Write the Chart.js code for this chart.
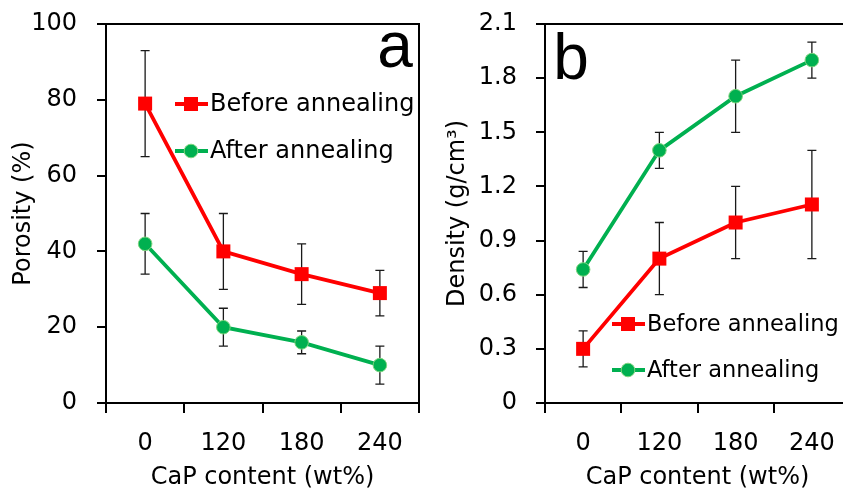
<!DOCTYPE html>
<html>
<head>
<meta charset="utf-8">
<script src="https://cdn.jsdelivr.net/npm/chart.js@4.4.0/dist/chart.umd.min.js"></script>
<style>
  html, body { margin: 0; padding: 0; background: #fff; overflow: hidden; }
  #wrap { position: relative; width: 843px; height: 493px; overflow: hidden; }
  canvas { position: absolute; top: 0; }
  #chartA { left: 0; }
  #chartB { left: 425px; }
</style>
</head>
<body>
<div id="wrap">
  <canvas id="chartA" width="425" height="493"></canvas>
  <canvas id="chartB" width="425" height="493"></canvas>
</div>
<script>
// dados
const categories = ['0', '120', '180', '240'];
const seriesNames = ['Before annealing', 'After annealing'];

const porosityBefore = [79, 40, 34, 29];
const porosityBeforeErr = [14, 10, 8, 6];
const porosityAfter = [42, 20, 16, 10];
const porosityAfterErr = [8, 5, 3, 5];
const porosityTicks = [0, 20, 40, 60, 80, 100];

const densityBefore = [0.3, 0.8, 1.0, 1.1];
const densityBeforeErr = [0.1, 0.2, 0.2, 0.3];
const densityAfter = [0.74, 1.4, 1.7, 1.9];
const densityAfterErr = [0.1, 0.1, 0.2, 0.1];
const densityTicks = [0, 0.3, 0.6, 0.9, 1.2, 1.5, 1.8, 2.1];

const RED = '#FF0000';
const GREEN = '#00B050';
const FONT = 'DejaVu Sans';

Chart.defaults.font.family = FONT;
Chart.defaults.color = '#000';

// barras de erro
const errorBars = {
    id: 'errorBars',
    beforeDatasetsDraw(chart) {
        const ctx = chart.ctx;
        const y = chart.scales.y;
        chart.data.datasets.forEach((ds, i) => {
            const meta = chart.getDatasetMeta(i);
            meta.data.forEach((pt, j) => {
                const v = ds.data[j];
                const e = ds.errors[j];
                const top = y.getPixelForValue(v + e);
                const bot = y.getPixelForValue(v - e);
                ctx.save();
                ctx.strokeStyle = '#1a1a1a';
                ctx.lineWidth = 1.3;
                ctx.beginPath();
                ctx.moveTo(pt.x, top); ctx.lineTo(pt.x, bot);
                ctx.moveTo(pt.x - 4.5, top); ctx.lineTo(pt.x + 4.5, top);
                ctx.moveTo(pt.x - 4.5, bot); ctx.lineTo(pt.x + 4.5, bot);
                ctx.stroke();
                ctx.restore();
            });
        });
    }
};

// moldura (lados de cima e da direita)
const frame = {
    id: 'frame',
    afterDraw(chart) {
        const {ctx, chartArea: a} = chart;
        ctx.save();
        ctx.strokeStyle = '#000';
        ctx.lineWidth = 2;
        ctx.beginPath();
        ctx.moveTo(a.left, a.top); ctx.lineTo(a.right, a.top); ctx.lineTo(a.right, a.bottom);
        ctx.stroke();
        ctx.restore();
    }
};

function drawMarker(ctx, style, x, y, color, border) {
    ctx.fillStyle = color;
    if (style === 'rect') {
        ctx.fillRect(x - 7, y - 7, 14, 14);
    } else {
        ctx.beginPath();
        ctx.arc(x, y, 6.8, 0, Math.PI * 2);
        ctx.fill();
        ctx.strokeStyle = border;
        ctx.lineWidth = 1;
        ctx.stroke();
    }
}

// legenda e letra do painel
const panelDecor = {
    id: 'panelDecor',
    afterDraw(chart, args, opts) {
        const ctx = chart.ctx;
        ctx.save();
        chart.data.datasets.forEach((ds, i) => {
            const ly = opts.legendY[i];
            ctx.strokeStyle = ds.borderColor;
            ctx.lineWidth = 3.8;
            ctx.beginPath();
            ctx.moveTo(opts.legendX, ly); ctx.lineTo(opts.legendX + 33, ly);
            ctx.stroke();
            drawMarker(ctx, ds.pointStyle, opts.legendX + 16, ly, ds.pointBackgroundColor, ds.pointBorderColor);
            ctx.fillStyle = '#000';
            ctx.font = opts.legendSize + 'px "' + FONT + '"';
            ctx.textBaseline = 'middle';
            ctx.textAlign = 'left';
            ctx.fillText(ds.label, opts.legendX + 35, ly + 1);
        });
        ctx.font = '64px "Liberation Sans"';
        ctx.textBaseline = 'alphabetic';
        ctx.textAlign = 'center';
        ctx.fillStyle = '#000';
        ctx.fillText(opts.letter, opts.letterX, opts.letterY);
        ctx.restore();
    }
};

function makeChart(id, before, beforeErr, after, afterErr, ticks, yTitle, yMax, yAxisWidth, titlePad, tickPad, rightPad, decor, fmt) {
    const ctx = document.getElementById(id).getContext('2d');
    return new Chart(ctx, {
        type: 'line',
        data: {
            labels: categories,
            datasets: [{
                label: seriesNames[0],
                data: before,
                errors: beforeErr,
                borderColor: RED,
                backgroundColor: RED,
                borderWidth: 3.8,
                pointStyle: 'rect',
                pointRadius: 9.9,
                pointBackgroundColor: RED,
                pointBorderColor: RED,
                pointBorderWidth: 0
            }, {
                label: seriesNames[1],
                data: after,
                errors: afterErr,
                borderColor: GREEN,
                backgroundColor: GREEN,
                borderWidth: 3.8,
                pointStyle: 'circle',
                pointRadius: 6.8,
                pointBackgroundColor: GREEN,
                pointBorderColor: '#7DD37D',
                pointBorderWidth: 1
            }]
        },
        options: {
            responsive: false,
            animation: false,
            layout: { autoPadding: false, padding: { top: 24, right: rightPad, left: 0, bottom: 0 } },
            plugins: {
                legend: { display: false },
                tooltip: { enabled: false },
                panelDecor: decor
            },
            scales: {
                x: {
                    offset: true,
                    grid: { offset: true, drawOnChartArea: false, color: '#000', lineWidth: 2, tickLength: 10 },
                    border: { color: '#000', width: 2 },
                    ticks: { padding: 16, font: { size: 24 }, color: '#000', maxRotation: 0 },
                    title: { display: true, text: 'CaP content (wt%)', font: { size: 24 }, color: '#000', padding: { top: 0, bottom: 1 } },
                    afterFit(axis) {
                        axis.height = 90;
                        axis.paddingLeft = 0;
                        axis.paddingRight = 0;
                    }
                },
                y: {
                    min: 0,
                    max: yMax,
                    grid: { drawOnChartArea: false, color: '#000', lineWidth: 2, tickLength: 9 },
                    border: { color: '#000', width: 2 },
                    ticks: { padding: tickPad, font: { size: 24 }, color: '#000', callback: fmt },
                    afterBuildTicks(axis) { axis.ticks = ticks.map(v => ({ value: v })); },
                    title: { display: true, text: yTitle, font: { size: 24 }, color: '#000', padding: { top: titlePad, bottom: 0 } },
                    afterFit(axis) {
                        axis.width = yAxisWidth;
                        axis.paddingTop = 0;
                        axis.paddingBottom = 0;
                    }
                }
            }
        },
        plugins: [errorBars, frame, panelDecor]
    });
}

makeChart('chartA', porosityBefore, porosityBeforeErr, porosityAfter, porosityAfterErr, porosityTicks,
    'Porosity (%)', 100, 106, 9, 20, 6,
    { legendX: 175, legendY: [104, 151], legendSize: 24, letter: 'a', letterX: 395, letterY: 67 },
    v => String(v));

makeChart('chartB', densityBefore, densityBeforeErr, densityAfter, densityAfterErr, densityTicks,
    'Density (g/cm³)', 2.1, 120, 18, 19, 0,
    { legendX: 187, legendY: [324, 370], legendSize: 22.5, letter: 'b', letterX: 146, letterY: 79 },
    v => v === 0 ? '0' : v.toFixed(1));
</script>
</body>
</html>
